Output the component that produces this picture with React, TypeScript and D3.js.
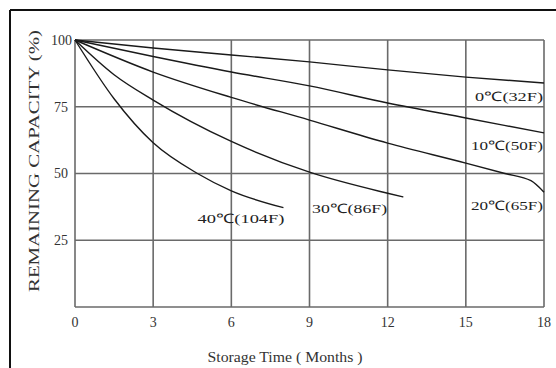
import * as d3 from 'd3';

const months = [0, 3, 6, 9, 12, 15, 18];
const capacityTicks = [25, 50, 75, 100];

// curves: [month, remaining %]
const c0 = [[0, 100], [3, 97], [6, 94.4], [9, 91.8], [12, 88.8], [15, 86.1], [18, 83.9]];
const c10 = [[0, 100], [3, 93.8], [6, 88], [9, 82.8], [12, 76.4], [15, 70.8], [18, 65.2]];
const c20 = [[0, 100], [3, 88], [6, 78.5], [9, 70], [12, 61.4], [15, 53.9], [16.5, 50], [17.5, 47.3], [18, 43]];
const c30 = [[0, 100], [1.5, 87], [3, 77.5], [6, 62], [9, 50.5], [12, 42.6], [12.6, 41.2]];
const c40 = [[0, 100], [1.5, 78], [3, 61.5], [4.7, 50], [6, 43.5], [8, 37.2]];

const seriesNames = ['0℃(32F)', '10℃(50F)', '20℃(65F)', '30℃(86F)', '40℃(104F)'];
const seriesData = [c0, c10, c20, c30, c40];
// where each label sits, in chart units: [month, %]
const labelAt = [[18, 78.7], [18, 60.5], [18, 38.2], [9.1, 37], [4.7, 33]];
const labelWidth = [68, 72, 72, 75, 87];

export default function App() {
  const width = 556;
  const height = 368;
  const x = d3.scaleLinear().domain([0, 18]).range([75, 544]);
  const y = d3.scaleLinear().domain([0, 100]).range([307, 40]);

  const line = d3
    .line<number[]>()
    .x((d) => x(d[0]))
    .y((d) => y(d[1]))
    .curve(d3.curveMonotoneX);

  const grid = '#6a6a6a';
  const font = '"Liberation Serif", "Times New Roman", serif';

  return (
    <svg
      width={width}
      height={height}
      style={{ position: 'absolute', left: 0, top: 0, background: '#fff' }}
      fontFamily={font}
    >
      <rect width={width} height={height} fill="#fff" />
      {/* outer frame */}
      <line x1={10} y1={10} x2={width} y2={10} stroke="#111" strokeWidth={2} />
      <line x1={10} y1={10} x2={10} y2={height} stroke="#111" strokeWidth={2} />

      {/* grid */}
      {months.map((m) => (
        <line key={'v' + m} x1={x(m)} x2={x(m)} y1={y(0)} y2={y(100)} stroke={grid} strokeWidth={1.6} />
      ))}
      {[0, ...capacityTicks].map((v) => (
        <line key={'h' + v} x1={x(0)} x2={x(18)} y1={y(v)} y2={y(v)} stroke={grid} strokeWidth={1.6} />
      ))}

      {/* curves */}
      {seriesData.map((s, i) => (
        <path key={i} d={line(s) || ''} fill="none" stroke="#1a1a1a" strokeWidth={1.4} />
      ))}

      {/* curve labels */}
      {seriesNames.map((name, i) => {
        const end = labelAt[i][0] === 18;
        const px = end ? x(18) - 1 : x(labelAt[i][0]);
        return (
          <text
            key={name}
            x={end ? px - labelWidth[i] : px}
            y={y(labelAt[i][1])}
            dy="0.35em"
            fontSize={13}
            fill="#222"
            textLength={labelWidth[i]}
            lengthAdjust="spacingAndGlyphs"
          >
            {name}
          </text>
        );
      })}

      {/* y ticks */}
      {capacityTicks.map((v) => (
        <text key={v} x={v === 100 ? 72 : 68} y={y(v)} dy="0.35em" textAnchor="end" fontSize={14} fill="#333">
          {v}
        </text>
      ))}

      {/* x ticks */}
      {months.map((m) => (
        <text key={m} x={x(m)} y={327} textAnchor="middle" fontSize={14} fill="#333">
          {m}
        </text>
      ))}

      <text
        x={285}
        y={362}
        textAnchor="middle"
        fontSize={14}
        fill="#333"
        textLength={155}
        lengthAdjust="spacingAndGlyphs"
      >
        Storage Time ( Months )
      </text>

      <text
        transform="translate(39,161) rotate(-90)"
        textAnchor="middle"
        fontSize={14}
        fill="#333"
        textLength={262}
        lengthAdjust="spacingAndGlyphs"
      >
        REMAINING CAPACITY (%)
      </text>
    </svg>
  );
}
